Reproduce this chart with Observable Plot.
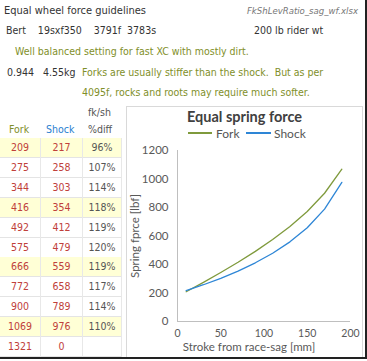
<!DOCTYPE html>
<html><head><meta charset="utf-8">
<script src="https://cdn.jsdelivr.net/npm/d3@7"></script>
<script src="https://cdn.jsdelivr.net/npm/@observablehq/plot@0.6"></script>
<style>
html,body{margin:0;padding:0;background:#fff;}
#page{position:relative;width:367px;height:361px;overflow:hidden;font-family:"DejaVu Sans Condensed","DejaVu Sans",sans-serif;font-size:10.5px;color:#333;}
.t{position:absolute;white-space:pre;line-height:1;}
.olive{color:#7f8f2a;}
#table{position:absolute;left:0;top:138px;}
.row{position:absolute;left:0;width:122px;height:20px;border-bottom:1px solid #e4e4e4;box-sizing:border-box;}
.row.y{background:#ffffd6;}
.cell{position:absolute;top:0;height:20px;line-height:19px;text-align:center;box-sizing:border-box;border-right:1px solid #e8e8e8;}
.num{color:#c0403a;}
.pct{color:#555;}
#chartbox{position:absolute;left:126px;top:106px;width:237px;height:252px;border:1px solid #d9d9d9;box-sizing:border-box;}
#title{position:absolute;left:126px;width:237px;top:108px;text-align:center;font-family:Lato,sans-serif;font-weight:bold;font-size:14.5px;color:#404040;}
.leg{position:absolute;top:126px;font-family:Lato,sans-serif;font-size:12px;color:#555;}
.legline{position:absolute;height:1.5px;top:132px;}
#plot{position:absolute;left:126px;top:140px;}
#rb{position:absolute;left:365px;top:0;width:2px;height:358px;background:#222;}
#bb{position:absolute;left:0;top:357px;width:367px;height:2px;background:#222;}
</style></head>
<body><div id="page">
<div class="t" style="left:4px;top:5px;font-size:11px;">Equal wheel force guidelines</div>
<div class="t" style="left:240px;top:6px;width:118px;text-align:right;font-style:italic;font-size:9.5px;color:#777;">FkShLevRatio_sag_wf.xlsx</div>
<div class="t" style="left:6px;top:25px;">Bert    19sxf350    3791f  3783s</div>
<div class="t" style="left:254px;top:25px;">200 lb rider wt</div>
<div class="t olive" style="left:15px;top:46px;">Well balanced setting for fast XC with mostly dirt.</div>
<div class="t" style="left:7px;top:67px;">0.944   4.55kg</div>
<div class="t olive" style="left:82px;top:67px;">Forks are usually stiffer than the shock.  But as per</div>
<div class="t olive" style="left:82px;top:87px;">4095f, rocks and roots may require much softer.</div>
<div class="t" style="left:88px;top:107px;color:#555;">fk/sh</div>
<div class="t" style="left:9px;top:124px;color:#7f8f2a;">Fork</div>
<div class="t" style="left:46px;top:124px;color:#2a7fd0;">Shock</div>
<div class="t" style="left:88px;top:124px;color:#555;">%diff</div>
<div id="table"></div>
<div id="chartbox"></div>
<div id="title">Equal spring force</div>
<div class="legline" style="left:188px;width:24px;background:#7f9a3c;"></div>
<div class="leg" style="left:216px;">Fork</div>
<div class="legline" style="left:246px;width:25px;background:#2e86d6;"></div>
<div class="leg" style="left:274px;">Shock</div>
<div id="plot"></div>
<div id="rb"></div><div id="bb"></div>
</div>
<script>
const strokeMm = [10, 30, 50, 70, 90, 110, 130, 150, 170, 190];
const forkLbf = [209, 275, 344, 416, 492, 575, 666, 772, 900, 1069, 1321];
const shockLbf = [217, 258, 303, 354, 412, 479, 559, 658, 789, 976, 0];
const pctDiff = ["96%", "107%", "114%", "118%", "119%", "120%", "119%", "117%", "114%", "110%", ""];
const yTicks = [0, 200, 400, 600, 800, 1000, 1200];
const xTicks = [0, 50, 100, 150, 200];

// table
const table = document.getElementById("table");
const colX = [0, 41, 83], colW = [41, 42, 39];
forkLbf.forEach((f, i) => {
  const r = document.createElement("div");
  r.className = "row" + (i % 3 === 0 ? " y" : "");
  r.style.top = (i * 19.9) + "px";
  const vals = [f, shockLbf[i], pctDiff[i]];
  vals.forEach((v, j) => {
    const c = document.createElement("div");
    c.className = "cell " + (j < 2 ? "num" : "pct");
    c.style.left = colX[j] + "px"; c.style.width = colW[j] + "px";
    c.textContent = v;
    r.appendChild(c);
  });
  table.appendChild(r);
});

const pts = [];
strokeMm.forEach((x, i) => {
  pts.push({x, v: forkLbf[i], s: "Fork"});
  pts.push({x, v: shockLbf[i], s: "Shock"});
});

const chart = Plot.plot({
  width: 237, height: 217,
  marginLeft: 51, marginRight: 13, marginTop: 10, marginBottom: 36,
  style: {fontFamily: "Lato, sans-serif", fontSize: "10.5px", color: "#595959", background: "transparent"},
  x: {domain: [0, 200], ticks: xTicks},
  y: {domain: [0, 1200], ticks: yTicks},
  color: {domain: ["Fork", "Shock"], range: ["#7f9a3c", "#2e86d6"]},
  marks: [
    Plot.axisX({ticks: xTicks, tickSize: 0, tickPadding: 8, label: null, tickFormat: d => String(d)}),
    Plot.axisY({ticks: yTicks, tickSize: 0, tickPadding: 9, tickFormat: d => String(d),
      label: "Spring fprce [lbf]", labelAnchor: "center", labelArrow: "none", labelOffset: 47, fontSize: 11.5}),
    Plot.ruleX([0], {stroke: "#bfbfbf"}),
    Plot.ruleY([0], {stroke: "#bfbfbf"}),
    Plot.line(pts, {x: "x", y: "v", z: "s", stroke: "s", strokeWidth: 1.3}),
    Plot.text(["Stroke from race-sag [mm]"], {frameAnchor: "bottom", dx: -15, dy: 29, fontSize: 11.5, fill: "#595959"})
  ]
});
document.getElementById("plot").appendChild(chart);
</script>
</body></html>
